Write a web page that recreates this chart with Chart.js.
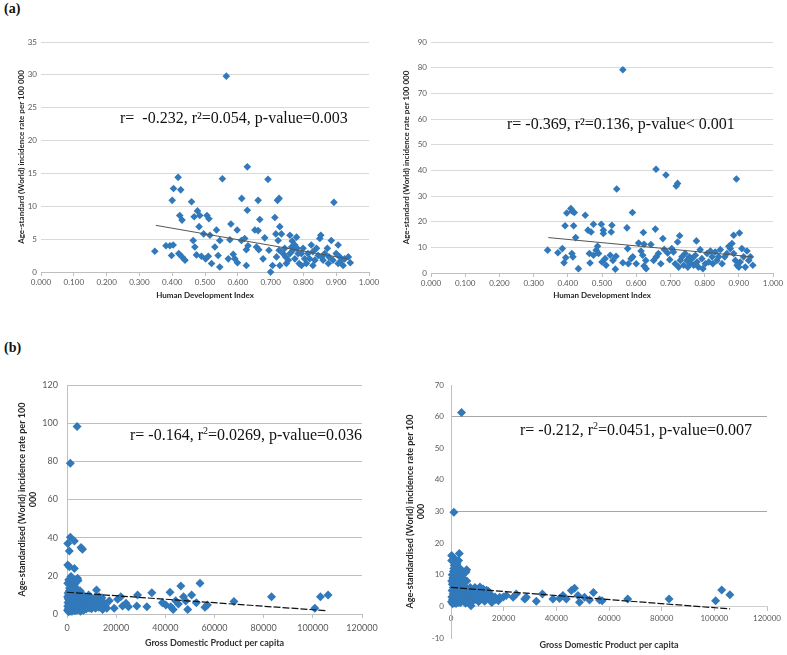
<!DOCTYPE html>
<html><head><meta charset="utf-8">
<script src="https://cdn.jsdelivr.net/npm/chart.js@4.4.1/dist/chart.umd.min.js"></script>
<style>
html,body{margin:0;padding:0;background:#fff;width:787px;height:655px;overflow:hidden;position:relative;font-family:Lato,sans-serif}
canvas{position:absolute}
.lbl{position:absolute;font-family:"Liberation Serif",serif;font-weight:bold;font-size:14px;color:#111;line-height:16px}
.stat{position:absolute;font-family:"Liberation Serif",serif;font-size:16px;line-height:18px;color:#111;white-space:nowrap}
.stat sup{font-size:10px;line-height:0;vertical-align:6px}
</style></head><body>
<div class="lbl" style="left:4px;top:1px">(a)</div>
<div class="lbl" style="left:4px;top:340px">(b)</div>
<canvas id="c1" width="390" height="310" style="left:0;top:0"></canvas>
<canvas id="c2" width="397" height="310" style="left:390px;top:0"></canvas>
<canvas id="c3" width="390" height="325" style="left:0;top:330px"></canvas>
<canvas id="c4" width="397" height="325" style="left:390px;top:330px"></canvas>
<div class="stat" style="left:120px;top:109px">r=&nbsp; -0.232, r²=0.054, p-value=0.003</div>
<div class="stat" style="left:507px;top:115px">r= -0.369, r²=0.136, p-value&lt; 0.001</div>
<div class="stat" style="left:130px;top:426px">r= -0.164, r<sup>2</sup>=0.0269, p-value=0.036</div>
<div class="stat" style="left:520px;top:421px">r= -0.212, r<sup>2</sup>=0.0451, p-value=0.007</div>
<script>
// ---------- Panel (a) left: HDI vs incidence (up to 35) ----------
const hdiA = [0.347,0.381,0.393,0.403,0.398,0.400,0.404,0.418,0.426,0.423,0.430,0.420,0.430,0.439,0.459,0.464,0.469,0.467,0.477,0.484,0.482,0.474,0.489,0.496,0.502,0.506,0.512,0.515,0.510,0.520,0.535,0.530,0.540,0.545,0.545,0.553,0.565,0.579,0.576,0.571,0.586,0.591,0.598,0.599,0.612,0.611,0.621,0.626,0.626,0.629,0.629,0.631,0.652,0.657,0.662,0.662,0.667,0.664,0.677,0.682,0.692,0.695,0.700,0.706,0.713,0.716,0.721,0.726,0.723,0.728,0.733,0.726,0.728,0.718,0.743,0.746,0.748,0.759,0.759,0.768,0.774,0.774,0.779,0.784,0.787,0.794,0.794,0.799,0.804,0.814,0.819,0.824,0.829,0.829,0.835,0.845,0.850,0.853,0.860,0.865,0.873,0.878,0.885,0.893,0.890,0.900,0.906,0.906,0.911,0.921,0.926,0.937,0.943,0.738,0.754,0.764,0.809,0.840,0.855,0.876,0.916,0.781,0.766];
const rateA = [3.15,4.0,4.0,4.1,2.5,10.9,12.7,14.4,12.5,8.6,7.9,2.8,2.3,1.8,10.7,4.8,3.8,8.4,9.3,8.6,6.9,2.6,2.4,5.8,2.0,8.6,8.1,5.6,2.4,1.3,6.4,3.8,2.5,4.8,0.76,14.2,29.8,7.3,4.9,2.0,2.7,2.0,6.4,1.4,11.2,4.8,5.1,1.0,3.4,9.4,16.0,4.0,6.4,3.8,6.3,10.9,8.0,3.4,2.0,5.2,14.1,3.3,0.0,1.0,8.3,5.8,10.9,11.2,4.8,6.9,5.8,3.3,1.0,2.3,3.6,2.3,1.3,5.6,2.8,3.3,2.0,4.1,5.3,2.8,1.3,1.0,2.8,3.6,2.0,2.8,2.0,4.1,3.1,1.0,1.8,2.5,5.1,5.6,1.8,2.8,3.6,2.3,4.8,10.6,1.8,2.8,4.1,1.3,2.3,1.0,2.0,2.3,1.4,2.8,1.8,3.8,1.3,3.6,2.3,1.3,1.8,3.6,4.7];
const trendAx = [0.350, 0.936];
const trendAy = [7.1, 2.0];

// ---------- Panel (a) right: HDI vs incidence (up to 90) ----------
const hdiB = [0.341,0.371,0.384,0.389,0.392,0.397,0.394,0.409,0.413,0.419,0.417,0.412,0.415,0.423,0.431,0.451,0.459,0.463,0.465,0.468,0.475,0.475,0.483,0.487,0.490,0.498,0.500,0.504,0.504,0.509,0.512,0.524,0.529,0.527,0.532,0.539,0.541,0.543,0.561,0.561,0.573,0.575,0.577,0.585,0.589,0.590,0.600,0.607,0.614,0.621,0.619,0.623,0.623,0.628,0.629,0.643,0.651,0.656,0.658,0.659,0.665,0.672,0.678,0.682,0.687,0.692,0.698,0.704,0.709,0.714,0.717,0.721,0.721,0.727,0.724,0.729,0.734,0.739,0.743,0.748,0.751,0.756,0.758,0.763,0.768,0.773,0.776,0.778,0.782,0.787,0.792,0.795,0.802,0.807,0.812,0.817,0.822,0.824,0.831,0.836,0.841,0.846,0.851,0.859,0.865,0.871,0.875,0.880,0.885,0.885,0.890,0.893,0.895,0.900,0.902,0.904,0.909,0.914,0.919,0.924,0.929,0.934,0.941];
const rateB = [8.9,7.9,9.5,4.0,18.4,23.4,6.0,25.1,24.1,23.6,18.4,7.6,6.3,13.8,1.7,22.5,16.7,7.6,3.9,16.0,19.0,6.9,8.9,10.4,7.6,19.0,4.3,16.7,15.4,5.6,3.0,6.9,18.6,16.0,4.9,1.5,6.5,32.7,4.0,79.2,17.6,9.5,3.6,5.6,23.6,6.3,3.6,11.7,8.6,15.8,6.9,11.2,2.7,4.9,1.7,11.1,4.9,17.1,40.4,6.3,7.6,3.6,13.4,9.2,38.2,7.8,5.2,9.5,8.2,3.6,33.9,34.9,12.1,14.5,2.3,4.9,6.3,3.0,7.6,4.9,2.3,6.3,3.9,5.6,3.0,6.9,12.5,4.3,2.3,9.1,5.6,1.7,3.6,7.6,4.3,8.6,6.3,3.6,8.2,4.9,6.3,9.1,3.6,6.3,7.6,10.4,9.5,11.5,14.7,7.6,4.9,36.6,3.0,2.3,15.6,4.3,9.5,6.3,2.3,8.6,4.9,6.3,3.0];
const trendBx = [0.343, 0.939];
const trendBy = [13.8, 6.3];

// ---------- Panel (b) left: GDP vs incidence (up to 120) ----------
const gdpC = [4100,1350,1350,3000,300,950,5700,6300,300,950,3000,1600,4300,300,
  12000,8400,13100,17200,19200,20600,21900,22600,24000,25000,28400,28700,32500,34500,38800,40200,41900,42200,43200,44200,45300,46300,47400,48300,49100,50700,52600,54100,56100,57100,67900,83200,100800,103100,106200,
  200,300,400,500,600,700,800,900,1000,1100,1200,1300,1400,1500,1600,1700,1800,1900,2000,2100,2200,2300,2400,2500,2600,2700,2800,2900,3000,3100,3200,3300,3400,3500,3600,3700,3800,3900,4000,4200,4400,4600,4800,5000,5200,5400,5600,5800,6000,6300,6600,6900,7200,7500,7800,8100,8400,8700,9000,9300,9600,10000,10400,10800,11200,11600,12500,13000,13500,14000,14500,15000,700,2000,4500,
  250,450,650,850,1050,1250,1450,1650,1850,2050,2250,2450,2650,2850,3050,3250,3450,3650,3850,4050,4250,4650,5100,5500,5900,6400,6800,7300,7700,8200,8800,9400,9900,10600,11400,12300,13200,14200,15500,16200];
const rateC = [98.2,79.0,40.2,38.3,37.0,33.0,34.8,33.9,25.7,24.8,23.9,19.6,18.7,16.1,
  12.6,7.3,9.1,7.0,3.0,7.7,9.1,4.2,5.6,3.8,4.2,10.0,3.8,11.2,5.9,4.7,11.4,3.8,2.4,7.0,5.2,14.7,9.1,6.8,2.4,10.0,5.9,16.1,3.5,4.7,6.5,9.1,3.0,9.1,10.0,
  2,4,6,8,3,10,5,12,2.5,7,15,4,9,18,1.5,6,11,3,14,8,5,2,10,17,6.5,3.5,12.5,8.5,1.8,4.5,16,7,10.5,2.8,5.5,13,9,3.2,6,11.5,2.2,7.8,4.8,9.5,3,12,6.2,2,8,4,10,3,6.8,5,2.6,8.5,4.2,6,3.2,9,5.2,2.8,7,4,6.2,3,5.5,3.6,7.5,4.5,2.4,6,18,19,17.5,
  9,11,1.2,7.5,13.5,5.5,3,12,8,1.5,16.5,6,9.5,2.5,11,5,14,1.8,7,4,9,2.8,6.5,1.5,10.5,7,2,9,3.8,6,10,3.5,7.8,5,8.5,4,6,8.5,4.5,3];
const trendCx = [0, 105800];
const trendCy = [11.4, 1.7];

// ---------- Panel (b) right: GDP vs incidence (-10 to 70) ----------
const gdpD = [4000,1100,
  200,300,400,500,600,700,800,900,1000,1100,1200,1300,1400,1500,1600,1700,1800,1900,2000,2100,2200,2300,2400,2600,2700,2800,2900,3000,3100,3300,3400,3500,3600,3700,3800,3900,4100,4300,4500,4700,4900,5100,5300,5500,5700,5950,6200,6500,6800,7200,7600,8000,8400,8800,9100,9500,10000,10500,11000,11500,12200,12800,13500,14200,14800,15500,16700,18000,19900,250,3150,250,2800,
  18500,21000,23600,24800,28000,28600,32400,34700,38700,41200,42500,43800,45700,46900,48200,48800,50700,52600,54100,56400,57400,67100,82800,100500,102800,105900,
  250,450,650,850,1050,1250,1450,1650,1850,2050,2250,2450,2650,2850,3050,3250,3450,3650,3850,4050,4250,4650,5100,5500,6000,6400,6800,7300,7800,8200,8800,9400,9900,10600,11400,12300,13200,14200,15500,17000];
const rateD = [61.3,29.8,
  1.5,3,5,7,2.2,9,4,11,1.8,6,13,3.5,8,15,1,5,10,2.5,12,7,4,1.5,9,5.5,3,14.5,7.5,1.2,4,6,9.5,2.2,4.8,11,8,2.8,5,10,1.8,6.5,4,8.5,2.5,3.5,10.9,11.6,5,1.5,4,2.5,0.2,3.5,1.8,5,6,2.2,3.5,1.5,6.1,2.8,5.5,1.6,5.1,2.5,3.9,1.2,3.0,1.8,3.0,16.1,16.7,14.5,14.5,
  2.9,3.4,2.9,3.9,2.3,2.9,1.6,3.9,2.3,2.5,3.4,2.3,5.0,5.7,3.4,1.3,2.9,2.0,4.4,2.0,1.8,2.3,2.3,1.8,5.2,3.7,
  8,10,0.8,6,12,4.5,2,11,7,1,13.5,5,8.5,2,10,4,12,1.2,6,3,7.5,2.2,5.5,1,8,5.5,1.5,6,2.8,4.5,3,2.5,5,3.2,4.5,2.2,3.8,4.8,2.6,2.2];
const trendDx = [0, 106000];
const trendDy = [6.0, -0.8];

const BLUE = '#3179BA';
const TICK = '#595959';
function pts(xs, ys){ return xs.map((x,i)=>({x:x, y:ys[i]})); }
function datasets(xs, ys, tx, ty, r, lineColor, lineW, dash){
  return [
    {type:'line', data:pts(tx,ty), showLine:true, borderColor:lineColor, borderWidth:lineW, borderDash:dash, pointRadius:0, fill:false, clip:false, order:1},
    {data:pts(xs,ys), pointStyle:'rectRot', pointRadius:r, backgroundColor:BLUE, borderWidth:0, clip:false, order:2}
  ];
}
const base = {responsive:false, animation:false, events:[], plugins:{legend:{display:false}, tooltip:{enabled:false}}};

// Panel 1
new Chart(document.getElementById('c1'), {type:'scatter',
  data:{datasets:datasets(hdiA, rateA, trendAx, trendAy, 3.8, '#555555', 1, [])},
  options:Object.assign({}, base, {
    layout:{padding:{left:0,right:21,top:42,bottom:0}},
    scales:{
      x:{type:'linear', min:0, max:1, afterFit:s=>{s.height=38;},
        ticks:{stepSize:0.1, autoSkip:false, maxRotation:0, callback:v=>v.toFixed(3), color:TICK, font:{family:'Lato',size:8}, padding:2},
        grid:{drawOnChartArea:false, drawTicks:true, tickLength:4, color:'#BFBFBF'},
        border:{color:'#BFBFBF'},
        title:{display:true, text:'Human Development Index', color:'#262626', font:{family:'Lato',size:8,weight:'bold'}, padding:{top:0,bottom:10}}},
      y:{min:0, max:35, afterFit:s=>{s.width=41;},
        ticks:{stepSize:5, color:TICK, font:{family:'Lato',size:8}, padding:4},
        grid:{color:'#D9D9D9', drawTicks:false},
        border:{display:false},
        title:{display:true, text:'Age-standard (World) incidence rate per 100 000', color:'#262626', font:{family:'Lato',size:8,weight:'bold'}, padding:{top:17,bottom:0}}}
    }})
});

// Panel 2
new Chart(document.getElementById('c2'), {type:'scatter',
  data:{datasets:datasets(hdiB, rateB, trendBx, trendBy, 3.8, '#555555', 1, [])},
  options:Object.assign({}, base, {
    layout:{padding:{left:0,right:14,top:42,bottom:0}},
    scales:{
      x:{type:'linear', min:0, max:1, afterFit:s=>{s.height=37;},
        ticks:{stepSize:0.1, autoSkip:false, maxRotation:0, callback:v=>v.toFixed(3), color:TICK, font:{family:'Lato',size:8}, padding:2},
        grid:{drawOnChartArea:false, drawTicks:true, tickLength:4, color:'#BFBFBF'},
        border:{color:'#BFBFBF'},
        title:{display:true, text:'Human Development Index', color:'#262626', font:{family:'Lato',size:8,weight:'bold'}, padding:{top:0,bottom:10}}},
      y:{min:0, max:90, afterFit:s=>{s.width=41;},
        ticks:{stepSize:10, color:TICK, font:{family:'Lato',size:8}, padding:4},
        grid:{color:'#D9D9D9', drawTicks:false},
        border:{display:false},
        title:{display:true, text:'Age-standard (World) incidence rate per 100 000', color:'#262626', font:{family:'Lato',size:8,weight:'bold'}, padding:{top:12,bottom:0}}}
    }})
});

// Panel 3
new Chart(document.getElementById('c3'), {type:'scatter',
  data:{datasets:datasets(gdpC, rateC, trendCx, trendCy, 4.5, '#111111', 1.2, [7,2])},
  options:Object.assign({}, base, {
    layout:{padding:{left:0,right:28,top:55,bottom:0}},
    scales:{
      x:{type:'linear', min:0, max:120000, afterFit:s=>{s.height=41;},
        ticks:{stepSize:20000, autoSkip:false, maxRotation:0, callback:v=>String(v), color:TICK, font:{family:'Lato',size:9}, padding:5},
        grid:{drawOnChartArea:false, drawTicks:true, tickLength:4, color:'#BFBFBF'},
        border:{color:'#BFBFBF'},
        title:{display:true, text:'Gross Domestic Product per capita', color:'#333333', font:{family:'Lato',size:9,weight:'bold'}, padding:{top:0,bottom:7}}},
      y:{min:0, max:120, afterFit:s=>{s.width=67;},
        ticks:{stepSize:20, color:TICK, font:{family:'Lato',size:9}, padding:9},
        grid:{color:'#BFBFBF', drawTicks:false},
        border:{display:true, color:'#BFBFBF'},
        title:{display:true, text:['Age-standardised (World) incidence rate per 100','000'], color:'#262626', font:{family:'Lato',size:9,weight:'bold'}, padding:{top:17,bottom:0}}}
    }})
});

// Panel 4
new Chart(document.getElementById('c4'), {type:'scatter',
  data:{datasets:datasets(gdpD, rateD, trendDx, trendDy, 4.5, '#111111', 1.2, [7,2])},
  options:Object.assign({}, base, {
    layout:{padding:{left:0,right:20,top:55,bottom:0}},
    scales:{
      x:{type:'linear', position:{y:0}, min:0, max:120000,
        ticks:{stepSize:20000, autoSkip:false, maxRotation:0, callback:v=>String(v), color:TICK, font:{family:'Lato',size:8}, padding:3},
        grid:{drawOnChartArea:false, drawTicks:true, tickLength:4, color:'#BFBFBF'},
        border:{color:'#D0D0D0'}},
      xt:{type:'linear', position:'bottom', min:0, max:1, afterFit:s=>{s.height=17;},
        ticks:{display:false}, grid:{display:false}, border:{display:false},
        title:{display:true, text:'Gross Domestic Product per capita', color:'#333333', font:{family:'Lato',size:9,weight:'bold'}, padding:{top:0,bottom:5}}},
      y:{min:-10, max:70, afterFit:s=>{s.width=61;},
        ticks:{stepSize:10, color:TICK, font:{family:'Lato',size:8}, padding:7},
        grid:{color:c=>(c.tick && (c.tick.value===30 || c.tick.value===60)) ? '#A6A6A6' : 'rgba(0,0,0,0)', drawTicks:false},
        border:{display:true, color:'#BFBFBF'},
        title:{display:true, text:['Age-standardised (World) incidence rate per 100','000'], color:'#262626', font:{family:'Lato',size:9,weight:'bold'}, padding:{top:15,bottom:0}}}
    }})
});
</script>
</body></html>
